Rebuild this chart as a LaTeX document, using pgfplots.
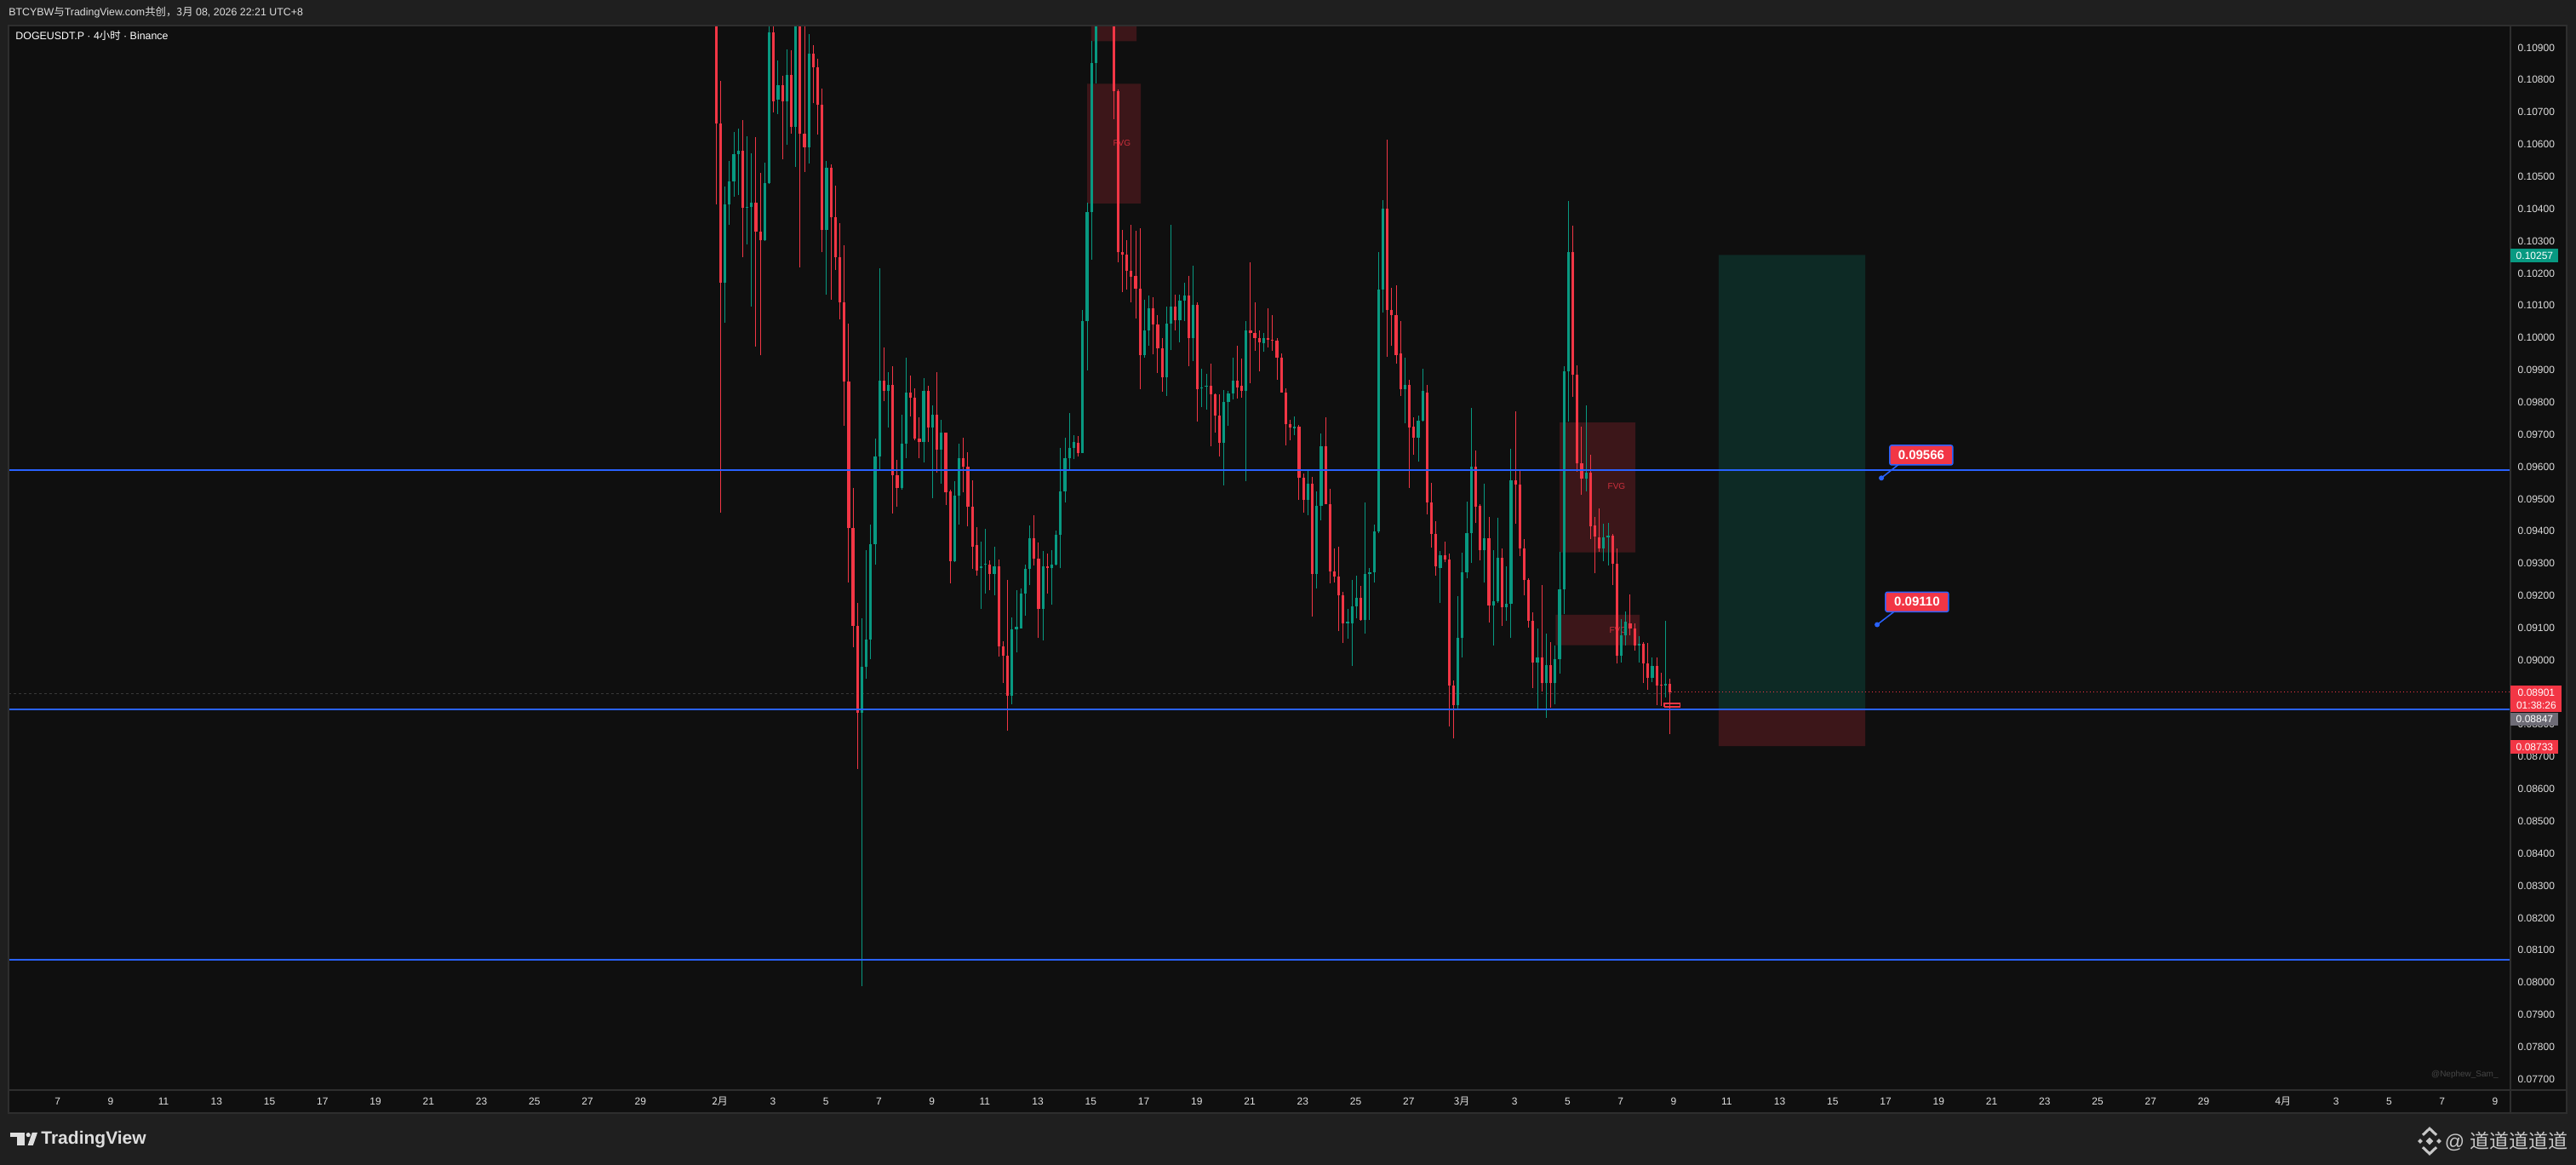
\documentclass[border=0pt]{standalone}
\usepackage{fontspec}
\setmainfont{Liberation Sans}
\newfontfamily\cjk{Noto Sans CJK SC}
\usepackage{pgfplots}
\pgfplotsset{compat=1.18}
\usepackage{pgfplotstable}
\definecolor{bgOuter}{HTML}{1F1F1F}
\definecolor{bgChart}{HTML}{0F0F0F}
\definecolor{frameC}{HTML}{2E2E2E}
\definecolor{cR}{HTML}{F23645}
\definecolor{cG}{HTML}{089981}
\definecolor{cBlue}{HTML}{2962FF}
\definecolor{txt}{HTML}{DEDEDE}
\definecolor{tagGrey}{HTML}{6E6C76}

\pgfplotstableread{
i o h l c
1 0.11193 0.11291 0.10413 0.10665
2 0.10665 0.10798 0.09457 0.10172
7 0.10580 0.10675 0.10251 0.10403
10 0.10419 0.10622 0.09972 0.10330
11 0.10330 0.10511 0.09945 0.10302
14 0.10948 0.10985 0.10699 0.10734
16 0.10784 0.10813 0.10553 0.10734
18 0.10815 0.10892 0.10634 0.10654
20 0.11035 0.11114 0.10219 0.10634
21 0.10634 0.10990 0.10515 0.10592
23 0.10881 0.10908 0.10727 0.10839
24 0.10839 0.10865 0.10630 0.10723
25 0.10723 0.10772 0.10266 0.10334
27 0.10527 0.10539 0.10118 0.10373
28 0.10373 0.10472 0.10211 0.10249
29 0.10249 0.10355 0.10057 0.10109
30 0.10109 0.10288 0.09727 0.09864
31 0.09864 0.10045 0.09242 0.09410
32 0.09410 0.09534 0.09040 0.09107
33 0.09107 0.09177 0.08663 0.08837
39 0.09868 0.09970 0.09804 0.09836
41 0.09854 0.09913 0.09455 0.09573
42 0.09573 0.09621 0.09475 0.09534
45 0.09830 0.09883 0.09755 0.09814
46 0.09814 0.09842 0.09682 0.09686
47 0.09688 0.09753 0.09627 0.09676
49 0.09836 0.09852 0.09676 0.09721
51 0.09761 0.09893 0.09581 0.09652
53 0.09706 0.09706 0.09481 0.09520
54 0.09524 0.09528 0.09238 0.09307
57 0.09627 0.09690 0.09520 0.09599
58 0.09599 0.09646 0.09415 0.09475
59 0.09475 0.09558 0.09283 0.09352
60 0.09356 0.09413 0.09263 0.09279
63 0.09297 0.09309 0.09218 0.09267
65 0.09291 0.09313 0.09011 0.09042
66 0.09042 0.09058 0.08930 0.09013
67 0.09013 0.09248 0.08780 0.08890
73 0.09378 0.09449 0.09293 0.09315
74 0.09315 0.09364 0.09068 0.09159
76 0.09291 0.09331 0.09206 0.09285
83 0.09674 0.09696 0.09631 0.09643
89 0.11193 0.11252 0.11074 0.11114
90 0.11114 0.11173 0.10980 0.11035
91 0.11035 0.11074 0.10679 0.10764
92 0.10764 0.10770 0.10235 0.10265
93 0.10265 0.10334 0.10142 0.10257
94 0.10257 0.10304 0.10150 0.10209
95 0.10209 0.10351 0.10109 0.10190
96 0.10193 0.10332 0.10061 0.10152
97 0.10152 0.10340 0.09840 0.09947
100 0.10091 0.10126 0.09949 0.10041
101 0.10041 0.10071 0.09891 0.09968
102 0.09968 0.10000 0.09832 0.09877
105 0.10097 0.10134 0.10024 0.10055
108 0.10132 0.10193 0.09913 0.10000
110 0.10101 0.10110 0.09739 0.09840
113 0.09852 0.09919 0.09664 0.09824
114 0.09824 0.09828 0.09706 0.09759
115 0.09759 0.09824 0.09631 0.09674
119 0.09866 0.09974 0.09812 0.09846
120 0.09850 0.09935 0.09814 0.09836
122 0.10022 0.10233 0.09860 0.10014
123 0.10016 0.10110 0.09960 0.10000
124 0.10000 0.10024 0.09895 0.09986
126 0.10000 0.10091 0.09970 0.09994
127 0.09994 0.10071 0.09960 0.09990
128 0.09992 0.09998 0.09870 0.09939
129 0.09939 0.09951 0.09830 0.09830
130 0.09830 0.09844 0.09666 0.09731
131 0.09733 0.09745 0.09682 0.09721
133 0.09725 0.09729 0.09498 0.09565
134 0.09565 0.09579 0.09457 0.09496
136 0.09546 0.09569 0.09135 0.09267
139 0.09664 0.09753 0.09483 0.09485
140 0.09485 0.09532 0.09238 0.09275
141 0.09275 0.09346 0.09242 0.09259
142 0.09259 0.09352 0.09090 0.09200
143 0.09200 0.09212 0.09054 0.09115
147 0.09192 0.09230 0.09123 0.09125
153 0.10401 0.10614 0.09941 0.10087
154 0.10087 0.10154 0.09974 0.10071
155 0.10071 0.10162 0.09921 0.09947
156 0.09951 0.10053 0.09820 0.09840
158 0.09854 0.09870 0.09534 0.09721
159 0.09725 0.09753 0.09637 0.09690
162 0.09830 0.09854 0.09451 0.09490
163 0.09490 0.09550 0.09348 0.09392
164 0.09392 0.09431 0.09263 0.09291
166 0.09325 0.09368 0.09303 0.09311
167 0.09313 0.09331 0.08793 0.08922
168 0.08922 0.08936 0.08756 0.08861
173 0.09601 0.09650 0.09425 0.09475
174 0.09479 0.09483 0.09309 0.09340
176 0.09378 0.09445 0.09117 0.09169
179 0.09317 0.09346 0.09107 0.09163
182 0.09558 0.09771 0.09423 0.09544
183 0.09544 0.09587 0.09323 0.09346
184 0.09346 0.09376 0.09200 0.09248
185 0.09248 0.09254 0.09101 0.09123
186 0.09123 0.09149 0.08914 0.08993
188 0.09009 0.09232 0.08902 0.08928
190 0.08985 0.09056 0.08853 0.08928
195 0.10266 0.10347 0.09816 0.09885
196 0.09885 0.09915 0.09585 0.09611
197 0.09611 0.09725 0.09514 0.09562
199 0.09581 0.09637 0.09376 0.09415
200 0.09419 0.09445 0.09269 0.09384
201 0.09380 0.09471 0.09336 0.09346
204 0.09386 0.09392 0.09234 0.09299
205 0.09299 0.09346 0.08989 0.09013
208 0.09115 0.09204 0.09076 0.09099
209 0.09099 0.09115 0.09030 0.09046
211 0.09050 0.09056 0.08930 0.08991
212 0.08991 0.09054 0.08908 0.08945
214 0.08981 0.09007 0.08861 0.08922
215 0.08924 0.08961 0.08859 0.08922
217 0.08926 0.08942 0.08770 0.08901
}\redtab

\pgfplotstableread{
i o h l c
3 0.10172 0.10468 0.10047 0.10413
4 0.10413 0.10549 0.10351 0.10484
5 0.10484 0.10638 0.10438 0.10569
6 0.10569 0.10648 0.10444 0.10580
8 0.10403 0.10624 0.10290 0.10407
9 0.10407 0.10573 0.10097 0.10419
12 0.10302 0.10543 0.10300 0.10480
13 0.10480 0.10975 0.10478 0.10948
15 0.10738 0.10861 0.10695 0.10784
17 0.10734 0.10894 0.10600 0.10815
19 0.10654 0.11094 0.10529 0.11035
22 0.10592 0.10942 0.10541 0.10881
26 0.10334 0.10549 0.10134 0.10527
34 0.08837 0.09129 0.07988 0.08979
35 0.08979 0.09340 0.08942 0.09064
36 0.09064 0.09421 0.09003 0.09360
37 0.09360 0.09686 0.09295 0.09633
38 0.09633 0.10215 0.09589 0.09868
40 0.09836 0.09893 0.09721 0.09854
43 0.09534 0.09761 0.09528 0.09672
44 0.09672 0.09939 0.09627 0.09830
48 0.09676 0.09874 0.09613 0.09836
50 0.09721 0.09789 0.09502 0.09761
52 0.09652 0.09745 0.09548 0.09706
55 0.09307 0.09554 0.09305 0.09510
56 0.09510 0.09672 0.09421 0.09627
61 0.09285 0.09368 0.09159 0.09291
62 0.09295 0.09408 0.09206 0.09299
64 0.09267 0.09352 0.09200 0.09291
68 0.08890 0.09133 0.08863 0.09096
69 0.09096 0.09216 0.09023 0.09103
70 0.09099 0.09222 0.09099 0.09206
71 0.09206 0.09297 0.09139 0.09283
72 0.09283 0.09417 0.09232 0.09378
75 0.09159 0.09338 0.09060 0.09291
77 0.09285 0.09340 0.09171 0.09297
78 0.09297 0.09402 0.09293 0.09390
79 0.09390 0.09658 0.09285 0.09524
80 0.09524 0.09690 0.09490 0.09627
81 0.09627 0.09767 0.09589 0.09658
82 0.09658 0.09698 0.09623 0.09678
84 0.09643 0.10085 0.09643 0.10051
85 0.10051 0.10419 0.09899 0.10391
86 0.10391 0.10920 0.10243 0.10853
87 0.10853 0.11074 0.10790 0.11054
88 0.11054 0.11272 0.11035 0.11193
98 0.09947 0.10118 0.09939 0.10022
99 0.10022 0.10130 0.09976 0.10091
103 0.09877 0.10097 0.09820 0.10043
104 0.10043 0.10351 0.09962 0.10097
106 0.10055 0.10134 0.09986 0.10114
107 0.10114 0.10170 0.10053 0.10132
109 0.10000 0.10223 0.09929 0.10101
111 0.09842 0.09905 0.09785 0.09846
112 0.09848 0.09889 0.09777 0.09852
116 0.09674 0.09838 0.09542 0.09802
117 0.09802 0.09834 0.09727 0.09828
118 0.09828 0.09939 0.09808 0.09866
121 0.09836 0.10053 0.09556 0.10022
125 0.09984 0.10014 0.09956 0.10000
132 0.09719 0.09757 0.09698 0.09723
135 0.09496 0.09587 0.09449 0.09546
137 0.09267 0.09524 0.09222 0.09479
138 0.09479 0.09704 0.09433 0.09664
144 0.09115 0.09159 0.09066 0.09119
145 0.09115 0.09248 0.08983 0.09167
146 0.09167 0.09263 0.09129 0.09192
148 0.09125 0.09488 0.09082 0.09267
149 0.09267 0.09285 0.09125 0.09273
150 0.09273 0.09421 0.09240 0.09400
151 0.09400 0.10265 0.09394 0.10150
152 0.10150 0.10426 0.10077 0.10401
157 0.09840 0.09939 0.09735 0.09854
160 0.09690 0.09759 0.09615 0.09743
161 0.09743 0.09903 0.09739 0.09834
165 0.09287 0.09338 0.09178 0.09325
169 0.08861 0.09198 0.08849 0.09068
170 0.09068 0.09333 0.09007 0.09273
171 0.09273 0.09492 0.09254 0.09394
172 0.09394 0.09783 0.09301 0.09601
175 0.09340 0.09546 0.09240 0.09378
177 0.09169 0.09340 0.09046 0.09182
178 0.09182 0.09441 0.09177 0.09317
180 0.09163 0.09291 0.09123 0.09175
181 0.09175 0.09656 0.09068 0.09558
187 0.08993 0.09099 0.08851 0.09009
189 0.08928 0.09082 0.08821 0.08985
191 0.08928 0.09046 0.08863 0.09003
192 0.09003 0.09336 0.08959 0.09220
193 0.09220 0.09913 0.09143 0.09895
194 0.09895 0.10424 0.09739 0.10266
198 0.09562 0.09791 0.09524 0.09581
202 0.09346 0.09423 0.09307 0.09380
203 0.09380 0.09425 0.09293 0.09386
206 0.09013 0.09127 0.08993 0.09076
207 0.09076 0.09151 0.09046 0.09119
210 0.09046 0.09074 0.08993 0.09050
213 0.08945 0.09009 0.08932 0.08981
216 0.08922 0.09123 0.08884 0.08926
}\greentab

\begin{document}
\begin{tikzpicture}
\useasboundingbox (0,0) rectangle (1513pt,684pt);
\fill[bgOuter] (0,0) rectangle (1513pt,684pt);
\fill[bgChart] (5pt,30.5pt) rectangle (1507.5pt,669pt);

\begin{axis}[
  at={(5pt,44pt)}, anchor=south west,
  scale only axis, width=1469.5pt, height=625pt,
  xmin=4.149, xmax=98.59, ymin=0.076662, ymax=0.109687,
  enlargelimits=false,
  axis line style={draw=none},
  major tick length=0pt, tick style={draw=none},
  xtick pos=lower, ytick pos=right, yticklabel pos=right,
  xtick={6,8,10,12,14,16,18,20,22,24,26,28,31,33,35,37,39,41,43,45,47,49,51,53,55,57,59,61,63,65,67,69,71,73,75,77,79,81,83,85,87,90,92,94,96,98},
  xticklabels={7,9,11,13,15,17,19,21,23,25,27,29,{\cjk 2月},3,5,7,9,11,13,15,17,19,21,23,25,27,{\cjk 3月},3,5,7,9,11,13,15,17,19,21,23,25,27,29,{\cjk 4月},3,5,7,9},
  ytick={0.077,0.078,0.079,0.080,0.081,0.082,0.083,0.084,0.085,0.086,0.087,0.088,0.089,0.090,0.091,0.092,0.093,0.094,0.095,0.096,0.097,0.098,0.099,0.100,0.101,0.102,0.103,0.104,0.105,0.106,0.107,0.108,0.109},
  yticklabels={0.07700,0.07800,0.07900,0.08000,0.08100,0.08200,0.08300,0.08400,0.08500,0.08600,0.08700,0.08800,0.08900,0.09000,0.09100,0.09200,0.09300,0.09400,0.09500,0.09600,0.09700,0.09800,0.09900,0.10000,0.10100,0.10200,0.10300,0.10400,0.10500,0.10600,0.10700,0.10800,0.10900},
  xticklabel style={font=\fontsize{6}{7}\selectfont, text=txt, anchor=center, yshift=-6.5pt},
  yticklabel style={font=\fontsize{6}{7}\selectfont, text=txt, anchor=west, inner sep=0pt, xshift=4pt},
]
% FVG boxes
\addplot[fill=cR, fill opacity=0.2, draw=none, forget plot] coordinates {(45.02,0.10920) (46.73,0.10920) (46.73,0.1125) (45.02,0.1125) (45.02,0.10920)};
\addplot[fill=cR, fill opacity=0.2, draw=none, forget plot] coordinates {(44.86,0.104165) (46.89,0.104165) (46.89,0.107878) (44.86,0.107878) (44.86,0.104165)};
\addplot[fill=cR, fill opacity=0.2, draw=none, forget plot] coordinates {(62.70,0.093345) (65.56,0.093345) (65.56,0.097373) (62.70,0.097373) (62.70,0.093345)};
\addplot[fill=cR, fill opacity=0.2, draw=none, forget plot] coordinates {(62.54,0.090462) (65.72,0.090462) (65.72,0.091409) (62.54,0.091409) (62.54,0.090462)};
\node[text=cR, text opacity=0.8, font=\fontsize{5}{6}\selectfont, anchor=east] at (axis cs:46.73,0.10605) {FVG};
\node[text=cR, text opacity=0.8, font=\fontsize{5}{6}\selectfont, anchor=east] at (axis cs:65.40,0.09538) {FVG};
\node[text=cR, text opacity=0.8, font=\fontsize{5}{6}\selectfont, anchor=east] at (axis cs:65.46,0.09092) {FVG};
% long position tool
\addplot[fill=cG, fill opacity=0.2, draw=none, forget plot] coordinates {(68.70,0.08847) (74.23,0.08847) (74.23,0.10257) (68.70,0.10257) (68.70,0.08847)};
\addplot[fill=cR, fill opacity=0.2, draw=none, forget plot] coordinates {(68.70,0.08733) (74.23,0.08733) (74.23,0.08847) (68.70,0.08847) (68.70,0.08733)};
% current price lines
\addplot[color=gray!45!black, line width=0.45pt, dash pattern=on 1.5pt off 1.5pt, forget plot] coordinates {(4.149,0.08897) (66.9,0.08897)};
\addplot[color=cR, line width=0.5pt, dash pattern=on 0.6pt off 1.4pt, forget plot] coordinates {(66.9,0.08901) (98.59,0.08901)};
% candles: wicks
\addplot[draw=none, mark=none, forget plot,
  error bars/.cd, y dir=plus, y explicit, error mark=none,
  error bar style={draw=cR, line width=0.5pt}]
  table[x expr={30.86+(\thisrow{i}-1)/6}, y=l, y error plus expr={\thisrow{h}-\thisrow{l}}] {\redtab};
\addplot[draw=none, mark=none, forget plot,
  error bars/.cd, y dir=plus, y explicit, error mark=none,
  error bar style={draw=cG, line width=0.5pt}]
  table[x expr={30.86+(\thisrow{i}-1)/6}, y=l, y error plus expr={\thisrow{h}-\thisrow{l}}] {\greentab};
% candles: bodies
\addplot[draw=none, mark=none, forget plot,
  error bars/.cd, y dir=plus, y explicit, error mark=none,
  error bar style={draw=cR, line width=1.6pt}]
  table[x expr={30.86+(\thisrow{i}-1)/6}, y=c, y error plus expr={max(\thisrow{o}-\thisrow{c},0.00003)}] {\redtab};
\addplot[draw=none, mark=none, forget plot,
  error bars/.cd, y dir=plus, y explicit, error mark=none,
  error bar style={draw=cG, line width=1.6pt}]
  table[x expr={30.86+(\thisrow{i}-1)/6}, y=o, y error plus expr={max(\thisrow{c}-\thisrow{o},0.00003)}] {\greentab};
% horizontal levels
\addplot[color=cBlue, line width=0.75pt, forget plot] coordinates {(4.149,0.09589) (98.59,0.09589)};
\addplot[color=cBlue, line width=1.1pt, forget plot] coordinates {(4.149,0.08847) (98.59,0.08847)};
\addplot[color=cBlue, line width=0.9pt, forget plot] coordinates {(4.149,0.08071) (98.59,0.08071)};
% small marker at last candle
\addplot[draw=cR, line width=0.7pt, forget plot] coordinates {(66.65,0.08855) (67.23,0.08855) (67.23,0.08866) (66.65,0.08866) (66.65,0.08855)};
% callouts
\addplot[color=cBlue, line width=0.75pt, mark=*, mark size=1.1pt, mark indices={1}, mark options={fill=cBlue, draw=cBlue}, forget plot] coordinates {(74.84,0.09565) (75.49,0.09607)};
\addplot[color=cBlue, line width=0.75pt, mark=*, mark size=1.1pt, mark indices={1}, mark options={fill=cBlue, draw=cBlue}, forget plot] coordinates {(74.68,0.09110) (75.33,0.09151)};
\node[fill=cR, draw=cBlue, line width=0.7pt, rounded corners=1pt, text=white, font=\bfseries\fontsize{7.5}{8}\selectfont, minimum width=37pt, minimum height=11.5pt, inner sep=0pt] at (axis cs:76.345,0.09636) {0.09566};
\node[fill=cR, draw=cBlue, line width=0.7pt, rounded corners=1pt, text=white, font=\bfseries\fontsize{7.5}{8}\selectfont, minimum width=37pt, minimum height=11.5pt, inner sep=0pt] at (axis cs:76.185,0.091805) {0.09110};
\end{axis}

% frame and separators
\draw[frameC, line width=0.6pt] (5pt,30.5pt) rectangle (1507.5pt,669pt);
\draw[frameC, line width=0.6pt] (1474.5pt,30.5pt) -- (1474.5pt,669pt);
\draw[frameC, line width=0.6pt] (5pt,44pt) -- (1507.5pt,44pt);

% price axis tags
\node[fill=cG, text=white, font=\fontsize{6}{7}\selectfont, anchor=west, inner sep=0pt, minimum width=28pt, minimum height=8pt] at (1474.5pt,534pt) {0.10257};
\node[fill=cR, text=white, font=\fontsize{6}{7.4}\selectfont, anchor=west, inner sep=0pt, minimum width=30pt, minimum height=15.4pt, align=center] at (1474.5pt,273.75pt) {0.08901\\01:38:26};
\node[fill=tagGrey, text=white, font=\fontsize{6}{7}\selectfont, anchor=west, inner sep=0pt, minimum width=28pt, minimum height=7.9pt] at (1474.5pt,261.75pt) {0.08847};
\node[fill=cR, text=white, font=\fontsize{6}{7}\selectfont, anchor=west, inner sep=0pt, minimum width=28pt, minimum height=7.7pt] at (1474.5pt,245.4pt) {0.08733};

% header and title
\node[anchor=west, inner sep=0pt, text=txt, font=\fontsize{6.2}{7}\selectfont] at (5pt,676.5pt) {BTCYBW{\cjk 与}TradingView.com{\cjk 共创，3月} 08, 2026 22:21 UTC+8};
\node[anchor=west, inner sep=0pt, text=white, font=\fontsize{6.2}{7}\selectfont] at (9pt,663pt) {DOGEUSDT.P · 4{\cjk 小时} · Binance};

% watermark
\node[anchor=east, inner sep=0pt, text=gray!55!black, font=\fontsize{5}{6}\selectfont] at (1467.5pt,53pt) {@Nephew\_Sam\_};

% TradingView logo
\fill[txt] (5.75pt,16.5pt) rectangle (14.35pt,19pt);
\fill[txt] (10.2pt,11.5pt) rectangle (14.35pt,19pt);
\fill[txt] (16.6pt,17.7pt) circle (1.3pt);
\fill[txt] (16.3pt,11.5pt) -- (19.4pt,11.5pt) -- (22pt,19pt) -- (18.9pt,19pt) -- cycle;
\node[anchor=west, inner sep=0pt, text=txt, font=\bfseries\fontsize{10.5}{12}\selectfont] at (24pt,15pt) {TradingView};

% Binance-like icon and handle
\begin{scope}[fill=txt!90!black]
\fill (1427pt,11.8pt) -- (1429.2pt,14pt) -- (1427pt,16.2pt) -- (1424.8pt,14pt) -- cycle;
\fill (1421.5pt,12.6pt) -- (1422.9pt,14pt) -- (1421.5pt,15.4pt) -- (1420.1pt,14pt) -- cycle;
\fill (1432.5pt,12.6pt) -- (1433.9pt,14pt) -- (1432.5pt,15.4pt) -- (1431.1pt,14pt) -- cycle;
\end{scope}
\draw[txt!90!black, line width=1.5pt] (1423pt,17.6pt) -- (1427pt,21.4pt) -- (1431pt,17.6pt);
\draw[txt!90!black, line width=1.5pt] (1423pt,10.4pt) -- (1427pt,6.6pt) -- (1431pt,10.4pt);
\node[anchor=east, inner sep=0pt, text=txt!90!black, font=\fontsize{11.5}{13}\selectfont] at (1508.5pt,14pt) {@ {\cjk 道道道道道}};
\end{tikzpicture}
\end{document}
